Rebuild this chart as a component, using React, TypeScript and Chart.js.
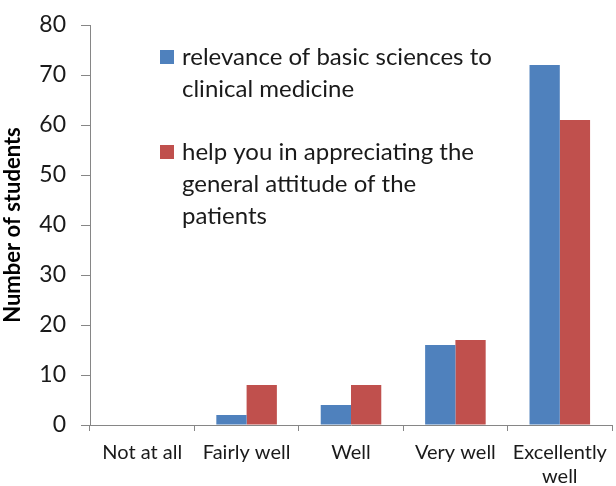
import React, { useEffect, useRef } from "react";
import { Chart, registerables } from "chart.js";

Chart.register(...registerables);

const categories: (string | string[])[] = ["Not at all", "Fairly well", "Well", "Very well", ["Excellently", "well"]];
const seriesNames = ["relevance of basic sciences to clinical medicine", "help you in appreciating the general attitude of the patients"];
const legendLines = [
  ["relevance of basic sciences to", "clinical medicine"],
  ["help you in appreciating the", "general attitude of the", "patients"],
];
const basicSciences = [0, 2, 4, 16, 72];
const attitude = [0, 8, 8, 17, 61];
const yTicks = [0, 10, 20, 30, 40, 50, 60, 70, 80];

const BLUE = "#4F81BD";
const RED = "#C0504D";
const AXIS = "#868686";
const FONT = "Lato, 'Open Sans', sans-serif";

export default function App() {
  const ref = useRef<HTMLCanvasElement>(null);
  useEffect(() => {
    document.body.style.margin = "0";
    const legendPlugin = {
      id: "customLegend",
      afterDraw(chart: any) {
        const ctx = chart.ctx;
        ctx.save();
        ctx.font = `24px ${FONT}`;
        ctx.textBaseline = "middle";
        const colors = [BLUE, RED];
        const starts = [57, 152];
        legendLines.forEach((lines, i) => {
          ctx.fillStyle = colors[i];
          ctx.fillRect(160, starts[i] - 7, 14, 14);
          ctx.fillStyle = "#1a1a1a";
          lines.forEach((l, j) => ctx.fillText(l, 182, starts[i] + j * 32));
        });
        ctx.restore();
      },
    };
    const chart = new Chart(ref.current!, {
      type: "bar",
      data: {
        labels: categories,
        datasets: [
          { label: seriesNames[0], data: basicSciences, backgroundColor: BLUE, categoryPercentage: 0.58, barPercentage: 1.0 },
          { label: seriesNames[1], data: attitude, backgroundColor: RED, categoryPercentage: 0.58, barPercentage: 1.0 },
        ],
      },
      options: {
        animation: false,
        responsive: false,
        layout: { padding: { top: 25, right: 4, left: 0, bottom: 0 } },
        plugins: { legend: { display: false }, tooltip: { enabled: false } },
        scales: {
          x: {
            grid: { offset: true, drawOnChartArea: false, drawTicks: true, tickLength: 6, color: AXIS },
            border: { color: AXIS, width: 1 },
            ticks: { color: "#1a1a1a", font: { family: FONT, size: 20, lineHeight: 1.2 }, padding: 10, maxRotation: 0, autoSkip: false },
            afterFit: (s: any) => { s.height = 61; s.paddingLeft = 0; s.paddingRight = 0; },
          },
          y: {
            min: 0,
            max: 80,
            afterBuildTicks: (s: any) => { s.ticks = yTicks.map((v) => ({ value: v })); },
            grid: { drawOnChartArea: false, drawTicks: true, tickLength: 9, color: AXIS },
            border: { color: AXIS, width: 1 },
            ticks: { color: "#1a1a1a", font: { family: FONT, size: 23 }, padding: 15 },
            title: { display: true, text: "Number of students", color: "#000", font: { family: FONT, size: 22, weight: "bold" }, padding: { top: 0, bottom: 0 } },
            afterFit: (s: any) => { s.width = 90; s.paddingTop = 0; s.paddingBottom = 0; },
          },
        },
      },
      plugins: [legendPlugin],
    });
    return () => chart.destroy();
  }, []);
  return <canvas ref={ref} width={616} height={486} style={{ display: "block" }} />;
}
